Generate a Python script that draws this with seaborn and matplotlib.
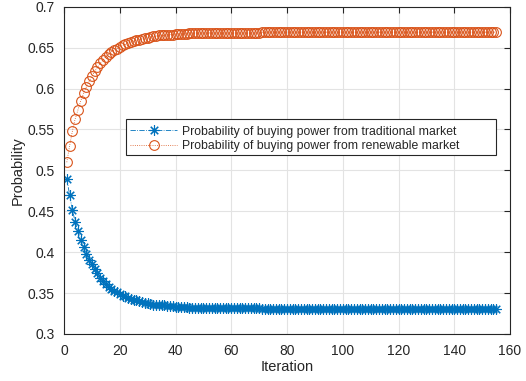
import matplotlib
matplotlib.use("Agg")
import matplotlib.pyplot as plt
from matplotlib.patches import Rectangle
import seaborn as sns
import pandas as pd

iterations = list(range(1, 156))

traditional = [
    0.490, 0.470, 0.452, 0.437, 0.426, 0.415, 0.406, 0.398, 0.391, 0.385,
    0.379, 0.374, 0.369, 0.365, 0.361, 0.358, 0.355, 0.353, 0.351, 0.349,
    0.347, 0.346, 0.344, 0.343, 0.342, 0.341, 0.340, 0.339, 0.338, 0.338,
    0.337, 0.336, 0.336, 0.335, 0.335, 0.335, 0.334, 0.334, 0.334, 0.333,
    0.333, 0.333, 0.333, 0.333, 0.332, 0.332, 0.332, 0.332, 0.332, 0.332,
    0.332, 0.332, 0.332, 0.332, 0.332, 0.332, 0.332, 0.332, 0.332, 0.332,
    0.332, 0.332, 0.332, 0.332, 0.332, 0.332, 0.332, 0.332, 0.332, 0.332,
    0.331, 0.331, 0.331, 0.331, 0.331, 0.331, 0.331, 0.331, 0.331, 0.331,
    0.331, 0.331, 0.331, 0.331, 0.331, 0.331, 0.331, 0.331, 0.331, 0.331,
    0.331, 0.331, 0.331, 0.331, 0.331, 0.331, 0.331, 0.331, 0.331, 0.331,
    0.331, 0.331, 0.331, 0.331, 0.331, 0.331, 0.331, 0.331, 0.331, 0.331,
    0.331, 0.331, 0.331, 0.331, 0.331, 0.331, 0.331, 0.331, 0.331, 0.331,
    0.331, 0.331, 0.331, 0.331, 0.331, 0.331, 0.331, 0.331, 0.331, 0.331,
    0.331, 0.331, 0.331, 0.331, 0.331, 0.331, 0.331, 0.331, 0.331, 0.331,
    0.331, 0.331, 0.331, 0.331, 0.331, 0.331, 0.331, 0.331, 0.331, 0.331,
    0.331, 0.331, 0.331, 0.331, 0.331,
]

renewable = [
    0.510, 0.530, 0.548, 0.563, 0.574, 0.585, 0.594, 0.602, 0.609, 0.615,
    0.621, 0.626, 0.631, 0.635, 0.639, 0.642, 0.645, 0.647, 0.649, 0.651,
    0.653, 0.654, 0.656, 0.657, 0.658, 0.659, 0.660, 0.661, 0.662, 0.662,
    0.663, 0.664, 0.664, 0.665, 0.665, 0.665, 0.666, 0.666, 0.666, 0.667,
    0.667, 0.667, 0.667, 0.667, 0.668, 0.668, 0.668, 0.668, 0.668, 0.668,
    0.668, 0.668, 0.668, 0.668, 0.668, 0.668, 0.668, 0.668, 0.668, 0.668,
    0.668, 0.668, 0.668, 0.668, 0.668, 0.668, 0.668, 0.668, 0.668, 0.668,
    0.669, 0.669, 0.669, 0.669, 0.669, 0.669, 0.669, 0.669, 0.669, 0.669,
    0.669, 0.669, 0.669, 0.669, 0.669, 0.669, 0.669, 0.669, 0.669, 0.669,
    0.669, 0.669, 0.669, 0.669, 0.669, 0.669, 0.669, 0.669, 0.669, 0.669,
    0.669, 0.669, 0.669, 0.669, 0.669, 0.669, 0.669, 0.669, 0.669, 0.669,
    0.669, 0.669, 0.669, 0.669, 0.669, 0.669, 0.669, 0.669, 0.669, 0.669,
    0.669, 0.669, 0.669, 0.669, 0.669, 0.669, 0.669, 0.669, 0.669, 0.669,
    0.669, 0.669, 0.669, 0.669, 0.669, 0.669, 0.669, 0.669, 0.669, 0.669,
    0.669, 0.669, 0.669, 0.669, 0.669, 0.669, 0.669, 0.669, 0.669, 0.669,
    0.669, 0.669, 0.669, 0.669, 0.669,
]

labels = ["Probability of buying power from traditional market",
          "Probability of buying power from renewable market"]

df = pd.DataFrame({"Iteration": iterations, "trad": traditional, "ren": renewable})

sns.set_style("whitegrid")
plt.rcParams["font.family"] = ["Liberation Sans", "DejaVu Sans"]
dark = "#262626"

fig = plt.figure(figsize=(5.26, 3.81), dpi=100)
ax = fig.add_axes([0.1217, 0.1234, 0.848, 0.8588])

# matlab style '*' : eight-armed asterisk
sns.lineplot(data=df, x="Iteration", y="trad", ax=ax, color="#0072BD",
             linestyle="-.", linewidth=0.6, marker=(8, 2, 0), markersize=7.5,
             markeredgewidth=0.8, markeredgecolor="#0072BD", label=labels[0])
sns.lineplot(data=df, x="Iteration", y="ren", ax=ax, color="#D95319",
             linestyle=":", linewidth=0.6, marker="o", markersize=7,
             markerfacecolor="none", markeredgecolor="#D95319",
             markeredgewidth=0.8, label=labels[1])

ax.set_xlim(0, 160)
ax.set_ylim(0.3, 0.7)
ax.set_xticks(range(0, 161, 20))
ax.set_yticks([0.3, 0.35, 0.4, 0.45, 0.5, 0.55, 0.6, 0.65, 0.7])
ax.set_yticklabels(["0.3", "0.35", "0.4", "0.45", "0.5", "0.55", "0.6", "0.65", "0.7"])
ax.set_xlabel("Iteration", fontsize=10.5, color=dark, labelpad=2)
ax.set_ylabel("Probability", fontsize=10.5, color=dark, labelpad=2)

ax.grid(True, color="#e3e3e3", linewidth=0.8)
for s in ax.spines.values():
    s.set_visible(True)
    s.set_color(dark)
    s.set_linewidth(0.8)
ax.tick_params(direction="in", length=4, width=0.8, colors=dark, labelsize=10,
               top=True, right=True, pad=7)

# legend box is wider than its contents, as in matlab
ax.add_patch(Rectangle((0.138, 0.547), 0.8305, 0.11, transform=ax.transAxes,
                       facecolor="white", edgecolor=dark, linewidth=0.8,
                       zorder=4.5))
leg = ax.legend(loc="upper left", bbox_to_anchor=(0.138, 0.652), fontsize=8.8,
                handlelength=3.8, frameon=False, borderpad=0.4,
                labelspacing=0.2, handletextpad=0.4, borderaxespad=0)
leg.set_zorder(5)
for t in leg.get_texts():
    t.set_color(dark)

fig.savefig("out.png", dpi=100)
